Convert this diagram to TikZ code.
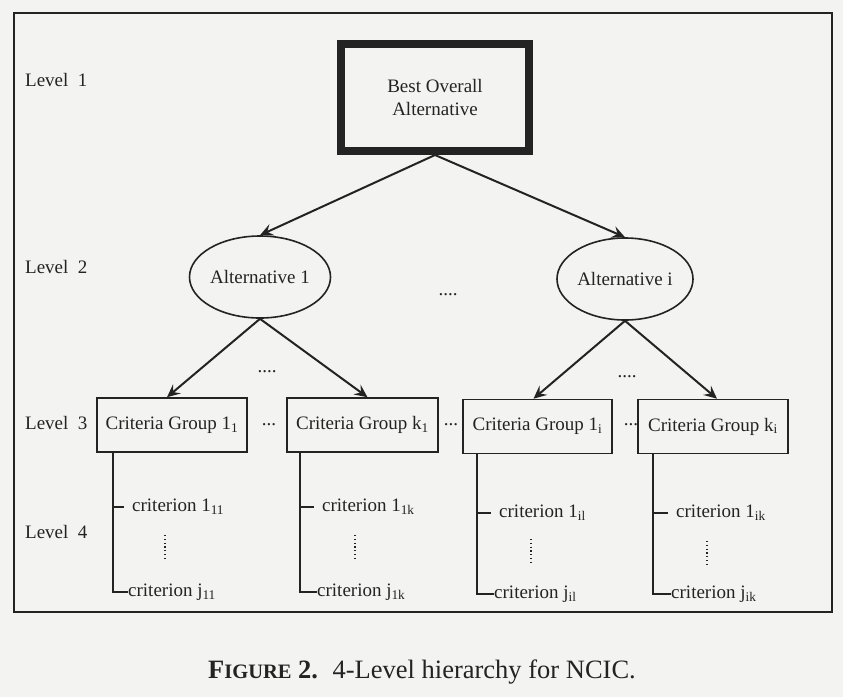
\documentclass[tikz,border=0pt]{standalone}
\usepackage{fontspec}
\setmainfont{Liberation Serif}
\usetikzlibrary{arrows.meta,shapes.geometric,calc}
\definecolor{paper}{RGB}{243,243,241}
\definecolor{ink}{RGB}{35,35,35}
\begin{document}
\begin{tikzpicture}[x=1pt,y=-1pt,
  txt/.style={font=\fontsize{19}{22}\selectfont, text=ink, inner sep=0pt},
  lvl/.style={txt, anchor=west},
  grpbox/.style={txt, draw=ink, line width=1.6pt, minimum height=54pt},
  altell/.style={txt, draw=ink, ellipse, line width=1.6pt, minimum width=136pt, minimum height=82pt},
  arr/.style={draw=ink, line width=2pt, -{Stealth[length=13pt,width=12pt,inset=5pt]}},
  tree/.style={draw=ink, line width=1.6pt},
  dotv/.style={draw=ink, line width=1.2pt, dash pattern=on 1.2pt off 2.6pt}
]
\fill[paper] (0,0) rectangle (843,697);
\useasboundingbox (0,0) rectangle (843,697);
\draw[ink, line width=2pt] (14,13) rectangle (832,612);

% level labels
\node[lvl] (l1) at (25,80) {Level\ \ 1};
\node[lvl] (l2) at (25,267) {Level\ \ 2};
\node[lvl] (l3) at (25,423) {Level\ \ 3};
\node[lvl] (l4) at (25,532) {Level\ \ 4};

% level 1
\node[txt, draw=ink, line width=8pt, minimum width=188pt, minimum height=107pt, align=center]
  (best) at (435,97.5) {Best Overall\\[1pt]Alternative};

% level 2
\node[altell] (a1) at (260,277) {Alternative 1};
\node[altell] (ai) at (625,279) {Alternative i};
\node[txt] (dm) at (448,295) {....};

\draw[arr] (best.south) -- (a1.north);
\draw[arr] (best.south) -- (ai.north);

% level 3
\node[grpbox, minimum width=150pt] (g1) at (172,425) {Criteria Group 1\textsubscript{1}};
\node[grpbox, minimum width=151pt] (g2) at (362.5,425) {Criteria Group k\textsubscript{1}};
\node[grpbox, minimum width=149pt] (g3) at (537.5,426.5) {Criteria Group 1\textsubscript{i}};
\node[grpbox, minimum width=150pt] (g4) at (713,426.5) {Criteria Group k\textsubscript{i}};

\node[txt] (d12) at (269,425) {...};
\node[txt] (d23) at (451,425) {...};
\node[txt] (d34) at (631,425) {...};
\node[txt] (dl) at (267,372) {....};
\node[txt] (dr) at (627,377) {....};

\draw[arr] (a1.south) -- ([xshift=-5pt]g1.north);
\draw[arr] (a1.south) -- ([xshift=5pt]g2.north);
\draw[arr] (ai.south) -- ([xshift=-4pt]g3.north);
\draw[arr] (ai.south) -- ([xshift=4pt]g4.north);

% level 4
\node[txt, anchor=west] (c1a) at (132,507) {criterion 1\textsubscript{11}};
\node[txt, anchor=west] (c1b) at (128,592) {criterion j\textsubscript{11}};
\node[txt, anchor=west] (c2a) at (322,507) {criterion 1\textsubscript{1k}};
\node[txt, anchor=west] (c2b) at (317,592) {criterion j\textsubscript{1k}};
\node[txt, anchor=west] (c3a) at (499,513) {criterion 1\textsubscript{il}};
\node[txt, anchor=west] (c3b) at (494,594) {criterion j\textsubscript{il}};
\node[txt, anchor=west] (c4a) at (676,513) {criterion 1\textsubscript{ik}};
\node[txt, anchor=west] (c4b) at (671,594) {criterion j\textsubscript{ik}};

\coordinate (v1) at (113,0);
\coordinate (v2) at (300,0);
\coordinate (v3) at (477,0);
\coordinate (v4) at (653,0);

\foreach \g/\v/\a/\b in {g1/v1/c1a/c1b, g2/v2/c2a/c2b, g3/v3/c3a/c3b, g4/v4/c4a/c4b}{
  \draw[tree] (\g.south -| \v) |- (\b.west);
  \draw[tree] (\a.west -| \v) -- ([xshift=-8pt]\a.west);
}

\coordinate (p1t) at (165,535); \coordinate (p1b) at (165,560);
\coordinate (p2t) at (355,535); \coordinate (p2b) at (355,560);
\coordinate (p3t) at (531,539); \coordinate (p3b) at (531,564);
\coordinate (p4t) at (707,541); \coordinate (p4b) at (707,566);
\draw[dotv] (p1t) -- (p1b);
\draw[dotv] (p2t) -- (p2b);
\draw[dotv] (p3t) -- (p3b);
\draw[dotv] (p4t) -- (p4b);

% caption
\node[anchor=west, inner sep=0pt, text=ink, font=\fontsize{26.5}{30}\selectfont] (cap) at (208,672)
  {\textbf{F{\fontsize{20.5}{24}\selectfont IGURE} 2.}\hspace{0.55em}4-Level hierarchy for NCIC.};
\end{tikzpicture}
\end{document}
